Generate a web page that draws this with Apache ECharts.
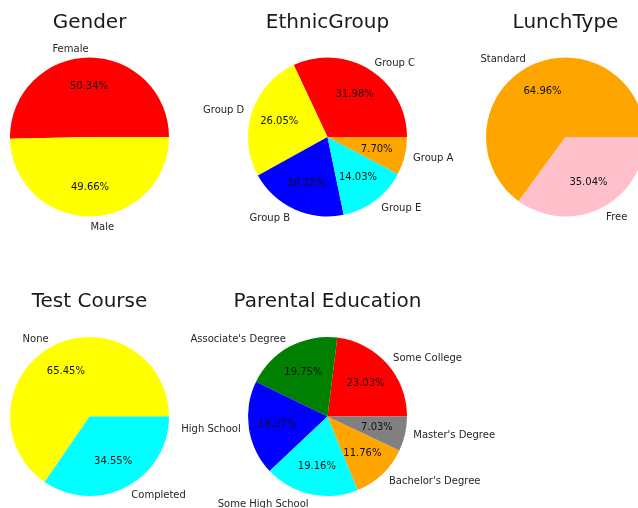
<!DOCTYPE html>
<html><head><meta charset="utf-8">
<script src="https://cdn.jsdelivr.net/npm/echarts@6/dist/echarts.min.js"></script>
<style>html,body{margin:0;padding:0;background:#fff}#c{width:638px;height:508px}</style>
</head><body><div id="c"></div>
<script>
// ---- data ----
const genderLabels = ['Female', 'Male'];
const genderValues = [50.34, 49.66];
const ethnicLabels = ['Group C', 'Group D', 'Group B', 'Group E', 'Group A'];
const ethnicValues = [31.98, 26.05, 20.23, 14.03, 7.70];
const lunchLabels = ['Standard', 'Free'];
const lunchValues = [64.96, 35.04];
const courseLabels = ['None', 'Completed'];
const courseValues = [65.45, 34.55];
const eduLabels = ['Some College', "Associate's Degree", 'High School', 'Some High School', "Bachelor's Degree", "Master's Degree"];
const eduValues = [23.03, 19.75, 19.27, 19.16, 11.76, 7.03];
const titles = ['Gender', 'EthnicGroup', 'LunchType', 'Test Course', 'Parental Education'];

// ---- styles ----
const genderColors = ['#ff0000', '#ffff00'];
const ethnicColors = ['#ff0000', '#ffff00', '#0000ff', '#00ffff', '#ffa500'];
const lunchColors = ['#ffa500', '#ffc0cb'];
const courseColors = ['#ffff00', '#00ffff'];
const eduColors = ['#ff0000', '#008000', '#0000ff', '#00ffff', '#ffa500', '#808080'];

const R = 79.5;
const centers = [[89.5, 137], [327.5, 137], [565.5, 137], [89.5, 416.5], [327.5, 416.5]];
const titleY = [23, 23, 23, 302, 302];
const FONT = 'DejaVu Sans';

const pies = [
  [genderLabels, genderValues, genderColors],
  [ethnicLabels, ethnicValues, ethnicColors],
  [lunchLabels, lunchValues, lunchColors],
  [courseLabels, courseValues, courseColors],
  [eduLabels, eduValues, eduColors]
];

// label distance: labels below the pie sit a little further out in the reference
function labelLen(values, k) {
  const total = values.reduce((a, b) => a + b, 0);
  let before = 0;
  for (let j = 0; j < k; j++) before += values[j];
  const mid = (before + values[k] / 2) / total * 2 * Math.PI;
  const s = Math.sin(mid);
  return R * 0.1 + (s < 0 ? -s * 2.5 : 0);
}

const series = [];
const title = [];
pies.forEach(([labels, values, colors], i) => {
  const c = centers[i];
  series.push({
    type: 'pie', center: c, radius: R, startAngle: 0, clockwise: false,
    silent: true, avoidLabelOverlap: false, animation: false,
    itemStyle: { borderWidth: 0 },
    label: { show: true, position: 'outside', distanceToLabelLine: 0,
      fontFamily: FONT, fontSize: 10, color: '#262626', formatter: '{b}' },
    labelLine: { show: false, length: R * 0.1, length2: 0 },
    emphasis: { disabled: true },
    data: labels.map((n, k) => ({ name: n, value: values[k],
      itemStyle: { color: colors[k] },
      labelLine: { show: false, length: labelLen(values, k), length2: 0 } }))
  });
  series.push({
    type: 'pie', center: c, radius: [R * 0.2, R], startAngle: 0, clockwise: false,
    silent: true, avoidLabelOverlap: false, animation: false,
    itemStyle: { color: 'rgba(0,0,0,0)', borderWidth: 0 },
    label: { show: true, position: 'inside', fontFamily: FONT, fontSize: 10, color: '#111',
      formatter: p => p.value.toFixed(2) + '%' },
    labelLine: { show: false },
    emphasis: { disabled: true },
    data: labels.map((n, k) => ({ name: n, value: values[k] }))
  });
  title.push({
    text: titles[i], left: c[0], top: titleY[i], padding: 0,
    textAlign: 'center', textVerticalAlign: 'middle',
    textStyle: { fontFamily: FONT, fontSize: 20, fontWeight: 'normal', color: '#1a1a1a' }
  });
});

const chart = echarts.init(document.getElementById('c'), null, { renderer: 'canvas' });
chart.setOption({ animation: false, backgroundColor: '#ffffff', title, series });
</script></body></html>
